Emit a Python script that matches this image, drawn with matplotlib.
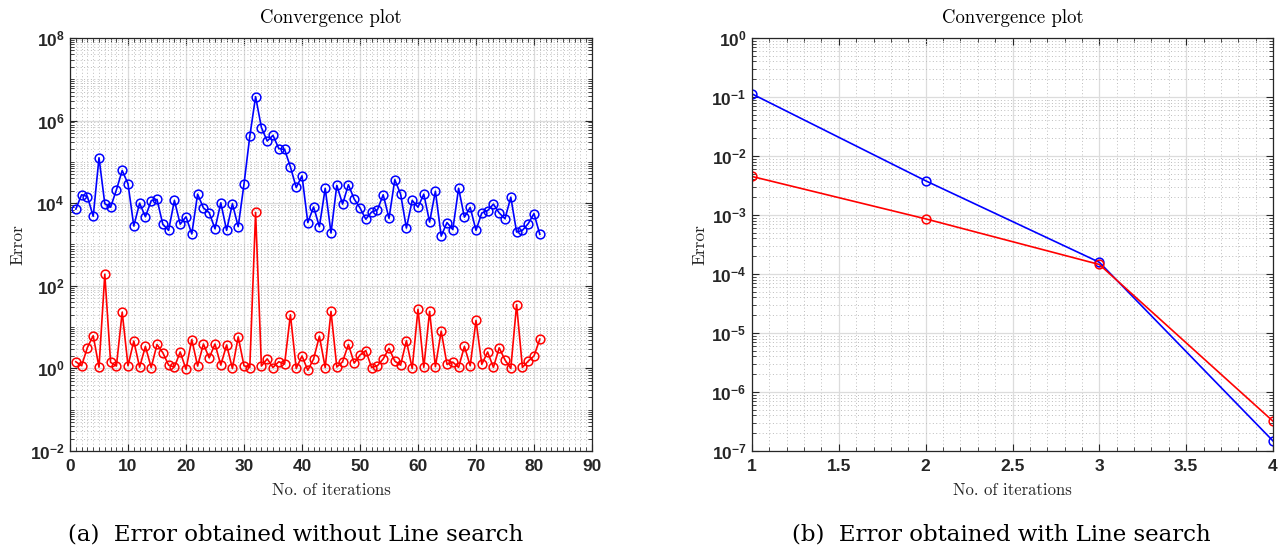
import numpy as np
import matplotlib
matplotlib.use('Agg')
import matplotlib.pyplot as plt
from matplotlib.ticker import LogLocator, MultipleLocator, FuncFormatter, NullFormatter

plt.rcParams['font.family'] = 'Liberation Sans'
plt.rcParams['font.weight'] = 'bold'
plt.rcParams['mathtext.fontset'] = 'custom'
plt.rcParams['mathtext.rm'] = 'Liberation Sans:bold'
plt.rcParams['mathtext.bf'] = 'Liberation Sans:bold'

# (a) without line search, iterations 1..81
iters_a = np.arange(1, 82)
err_a_blue = [7.2e3, 1.6e4, 1.45e4, 4.8e3, 1.26e5, 9.7e3, 8e3, 2.1e4, 6.2e4, 2.95e4,
              2.8e3, 1.0e4, 4.7e3, 1.15e4, 1.23e4, 3.1e3, 2.2e3, 1.17e4, 3.1e3, 4.7e3,
              1.8e3, 1.66e4, 7.7e3, 5.9e3, 2.4e3, 1.02e4, 2.2e3, 9.7e3, 2.7e3, 2.9e4,
              4.2e5, 3.8e6, 6.8e5, 3.2e5, 4.4e5, 2.1e5, 2.0e5, 7.6e4, 2.4e4, 4.6e4,
              3.4e3, 8.1e3, 2.7e3, 2.3e4, 1.9e3, 2.7e4, 9.5e3, 2.8e4, 1.26e4, 7.7e3,
              4.1e3, 6.1e3, 6.9e3, 1.6e4, 4.3e3, 3.7e4, 1.66e4, 2.5e3, 1.17e4, 8e3,
              1.66e4, 3.5e3, 1.95e4, 1.6e3, 3.4e3, 2.3e3, 2.3e4, 4.6e3, 7.9e3, 2.2e3,
              5.8e3, 6.6e3, 9.5e3, 5.8e3, 4.2e3, 1.4e4, 2.0e3, 2.2e3, 3.2e3, 5.6e3,
              1.76e3]
err_a_red = [1.45, 1.16, 3.2, 6.2, 1.07, 190, 1.4, 1.14, 23, 1.16,
             4.6, 1.07, 3.4, 1.05, 3.8, 2.4, 1.2, 1.08, 2.5, 0.95,
             5.0, 1.14, 3.9, 1.8, 3.9, 1.2, 3.7, 1.0, 5.8, 1.16,
             1.05, 6000, 1.14, 1.7, 1.05, 1.45, 1.27, 20, 1.0, 2.0,
             0.9, 1.7, 6.0, 1.05, 24, 1.08, 1.45, 3.8, 1.34, 2.1,
             2.7, 1.05, 1.16, 1.7, 3.05, 1.5, 1.2, 4.7, 1.0, 27,
             1.06, 24, 1.1, 8.0, 1.25, 1.42, 1.06, 3.4, 1.16, 14.5,
             1.25, 2.5, 1.06, 3.15, 1.6, 1.0, 35, 1.06, 1.5, 2.0,
             5.1]

# (b) with line search
iters_b = [1, 2, 3, 4]
err_b_blue = [0.113, 3.8e-3, 1.58e-4, 1.48e-7]
err_b_red = [4.5e-3, 8.6e-4, 1.45e-4, 3.2e-7]

blue = (0, 0, 1)
red = (1, 0, 0)
axcol = '#262626'


def style_axes(ax):
    ax.set_yscale('log')
    ax.yaxis.set_minor_locator(LogLocator(base=10, subs=np.arange(1, 10), numticks=200))
    ax.yaxis.set_minor_formatter(NullFormatter())
    ax.grid(True, which='major', color='#dcdcdc', linestyle='-', linewidth=0.9)
    ax.grid(True, which='minor', color='#bdbdbd', linestyle=(0, (1, 2.5)), linewidth=0.7)
    ax.set_axisbelow(True)
    ax.tick_params(which='both', direction='in', top=True, right=True, colors=axcol,
                   labelsize=12.5)
    ax.tick_params(which='major', length=5, width=0.8)
    ax.tick_params(axis='x', which='major', pad=6)
    ax.tick_params(axis='y', which='major', pad=4)
    ax.tick_params(which='minor', length=3, width=0.6)
    for s in ax.spines.values():
        s.set_color(axcol)
        s.set_linewidth(0.9)
    ax.xaxis.set_major_formatter(FuncFormatter(lambda v, p: '%g' % v))
    ax.set_title('Convergence plot', family='cmr10', fontweight='normal', fontsize=13.5,
                 color='black', pad=11)
    ax.set_xlabel('No. of iterations', family='cmr10', fontweight='normal', fontsize=12,
                  color=axcol, labelpad=6)
    ax.set_ylabel('Error', family='cmr10', fontweight='normal', fontsize=12.5,
                  color=axcol, labelpad=3)


fig = plt.figure(figsize=(12.87, 5.53), dpi=100)

ax1 = fig.add_axes([70 / 1287, 102 / 553, 522 / 1287, 413 / 553])
ax1.plot(iters_a, err_a_blue, '-o', color=blue, mfc='none', ms=6.3, mew=1.1, lw=1.2)
ax1.plot(iters_a, err_a_red, '-o', color=red, mfc='none', ms=6.3, mew=1.1, lw=1.2)
style_axes(ax1)
ax1.set_xlim(0, 90)
ax1.set_ylim(1e-2, 1e8)
ax1.set_xticks(np.arange(0, 91, 10))
ax1.xaxis.set_minor_locator(MultipleLocator(1))
ax1.set_yticks([1e-2, 1e0, 1e2, 1e4, 1e6, 1e8])

ax2 = fig.add_axes([752 / 1287, 102 / 553, 521 / 1287, 413 / 553])
ax2.plot(iters_b, err_b_blue, '-o', color=blue, mfc='none', ms=6.3, mew=1.1, lw=1.2)
ax2.plot(iters_b, err_b_red, '-o', color=red, mfc='none', ms=6.3, mew=1.1, lw=1.2)
style_axes(ax2)
ax2.set_xlim(1, 4)
ax2.set_ylim(1e-7, 1e0)
ax2.set_xticks(np.arange(1, 4.01, 0.5))
ax2.xaxis.set_minor_locator(MultipleLocator(0.1))
ax2.set_yticks([10.0 ** k for k in range(-7, 1)])

fig.text(296 / 1287, 18 / 553, '(a)  Error obtained without Line search', ha='center',
         va='center', family='DejaVu Serif', fontweight='normal', fontsize=16.5)
fig.text(1001 / 1287, 18 / 553, '(b)  Error obtained with Line search', ha='center',
         va='center', family='DejaVu Serif', fontweight='normal', fontsize=16.5)

fig.savefig('out.png', dpi=100)
